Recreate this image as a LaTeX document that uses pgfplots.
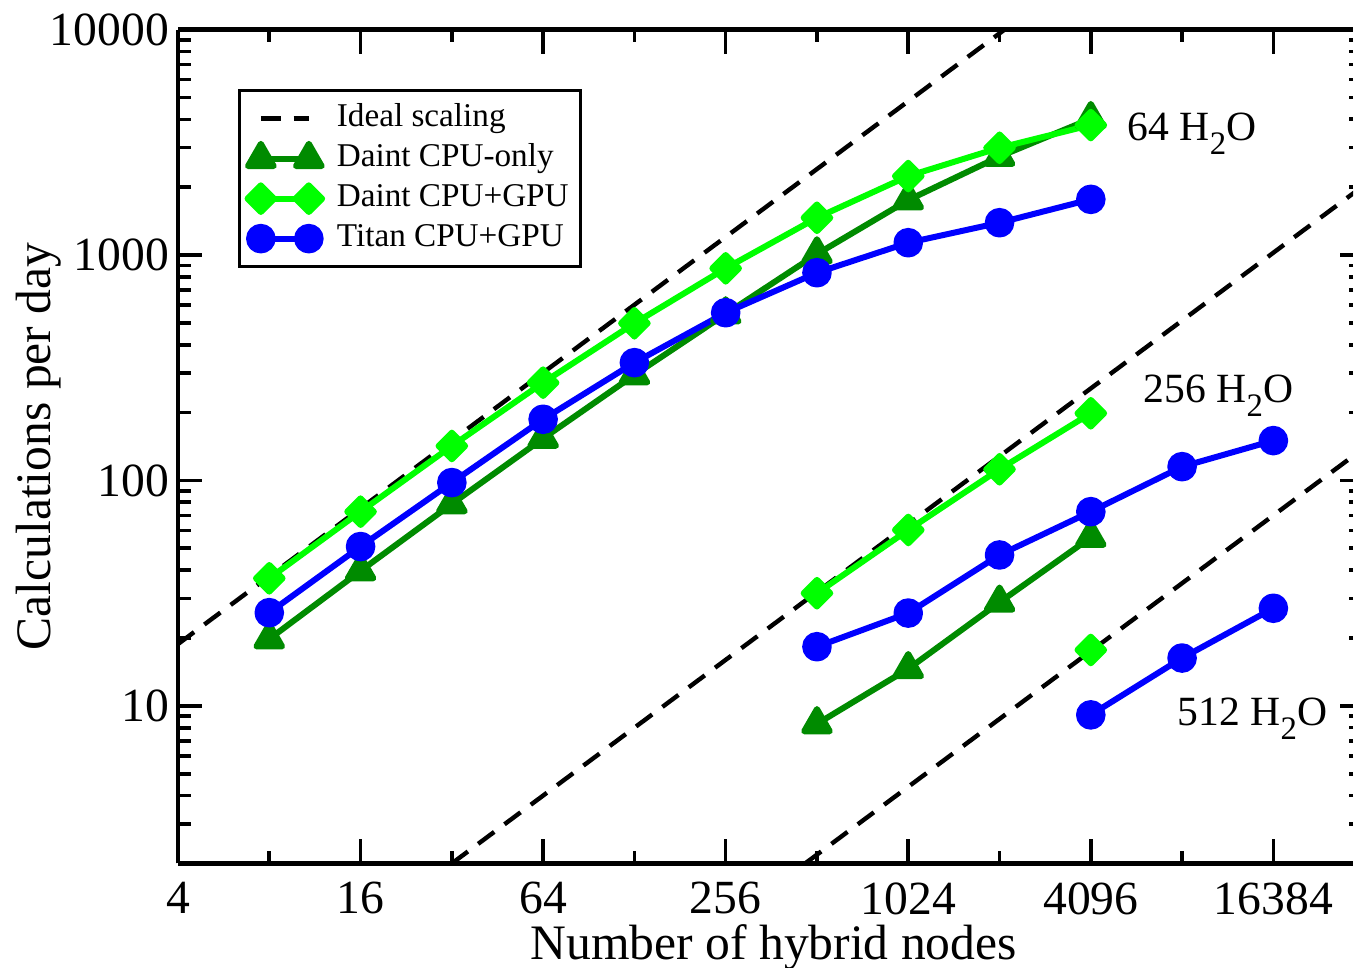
\documentclass[border=0pt]{standalone}
\usepackage{fontspec}
\setmainfont{Liberation Serif}
\usepackage{pgfplots}
\pgfplotsset{compat=1.18}
\definecolor{dgreen}{RGB}{0,139,0}
\definecolor{lgreen}{RGB}{0,255,0}
\definecolor{gblue}{RGB}{0,0,255}
\pgfplotsset{
  ideal/.style={black, line width=1.1pt, dash pattern=on 5pt off 3.2pt, no marks},
  cpuonly/.style={dgreen, line width=1.5pt, line join=round, mark=triangle*, mark size=3.7pt, mark options={solid, fill=dgreen, line join=round}},
  dgpu/.style={lgreen, line width=1.5pt, line join=round, mark=square*, mark size=2.35pt, mark options={solid, fill=lgreen, line join=round, rotate=45}},
  titan/.style={gblue, line width=1.5pt, line join=round, mark=*, mark size=2.95pt, mark options={solid, fill=gblue}},
}
\begin{document}
\begin{tikzpicture}
\begin{axis}[
  name=ax,
  scale only axis, width=293.75pt, height=208.45pt,
  xmode=log, ymode=log,
  xmin=4, xmax=30000, ymin=2, ymax=10000,
  axis x line*=box, axis y line*=left,
  axis line style={line width=1.1pt},
  tick style={line width=0.9pt, black},
  major tick length=6pt, minor tick length=3.2pt,
  tick align=inside,
  xtick={4,16,64,256,1024,4096,16384},
  xticklabels={4,16,64,256,1024,4096,16384},
  minor xtick={8,32,128,512,2048,8192},
  ytick={10,100,1000,10000},
  yticklabels={10,100,1000,10000},
  minor ytick={3,4,5,6,7,8,9,20,30,40,50,60,70,80,90,200,300,400,500,600,700,800,900,2000,3000,4000,5000,6000,7000,8000,9000},
  /pgf/number format/assume math mode=true,
  xticklabel style={font=\fontsize{11.9}{14}\selectfont, yshift=-1.2pt},
  yticklabel style={font=\fontsize{11.9}{14}\selectfont, xshift=1.25pt},
  xlabel={Number of hybrid nodes},
  ylabel={Calculations per day},
  label style={font=\fontsize{12.4}{15}\selectfont},
  xlabel style={at={(axis description cs:0.507,-0.115)}, anchor=base},
  ylabel style={at={(axis description cs:-0.1089,0.5)}, anchor=base},
  legend style={at={(axis description cs:0.0511,0.9286)}, anchor=north west,
    draw=black, line width=0.75pt, font=\fontsize{8.3}{10}\selectfont,
    inner sep=2pt, row sep=0pt,
    nodes={text height=6pt, text depth=2pt, inner sep=1pt},
    /tikz/every odd column/.append style={column sep=2.7pt}},
  legend cell align=left,
  legend image code/.code={\draw[#1, mark repeat=1] plot coordinates {(1.2pt,0pt) (13.2pt,0pt)};},
]
% ideal scaling lines
\addplot[ideal, forget plot] coordinates {(4,18.8) (4096,19251)};
\addplot[ideal, forget plot] coordinates {(32,2) (32768,2048)};
\addplot[ideal, forget plot] coordinates {(468,2) (32768,140)};
% 64 H2O
\addplot[cpuonly, forget plot] coordinates {(8,19.8) (16,39.7) (32,78.7) (64,153.6) (128,293.7) (256,547.5) (512,1010) (1024,1753) (2048,2734) (4096,4022)};
\addplot[dgpu, forget plot] coordinates {(8,36.8) (16,72.7) (32,142.2) (64,271.5) (128,497.9) (256,873) (512,1463) (1024,2240) (2048,2991) (4096,3771)};
\addplot[titan, forget plot] coordinates {(8,25.9) (16,50.9) (32,97.8) (64,186.8) (128,333) (256,554.7) (512,834.7) (1024,1134) (2048,1391) (4096,1766)};
% 256 H2O
\addplot[cpuonly, forget plot] coordinates {(512,8.32) (1024,14.6) (2048,28.8) (4096,55.9)};
\addplot[dgpu, forget plot] coordinates {(512,31.6) (1024,60.3) (2048,112.1) (4096,198.6)};
\addplot[titan, forget plot] coordinates {(512,18.3) (1024,25.8) (2048,46.7) (4096,72.7) (8192,115.1) (16384,150.2)};
% 512 H2O
\addplot[dgpu, forget plot] coordinates {(4096,17.7)};
\addplot[titan, forget plot] coordinates {(4096,9.12) (8192,16.3) (16384,27.1)};
% legend
\addlegendimage{ideal}
\addlegendentry{Ideal scaling}
\addlegendimage{cpuonly}
\addlegendentry{Daint CPU-only}
\addlegendimage{dgpu}
\addlegendentry{Daint CPU+GPU}
\addlegendimage{titan}
\addlegendentry{Titan CPU+GPU}
% annotations
\node[anchor=base west, font=\fontsize{10.4}{12}\selectfont, inner sep=0pt] at (rel axis cs:0.8077,0.8675) {64 H\raisebox{-3.7pt}{\fontsize{8.2}{9}\selectfont 2}O};
\node[anchor=base west, font=\fontsize{10.4}{12}\selectfont, inner sep=0pt] at (rel axis cs:0.8213,0.5532) {256 H\raisebox{-3.7pt}{\fontsize{8.2}{9}\selectfont 2}O};
\node[anchor=base west, font=\fontsize{10.4}{12}\selectfont, inner sep=0pt] at (rel axis cs:0.8502,0.1659) {512 H\raisebox{-3.7pt}{\fontsize{8.2}{9}\selectfont 2}O};
\end{axis}
\begin{axis}[
  scale only axis, width=293.75pt, height=208.45pt,
  at={(ax.south west)}, anchor=south west,
  xmode=log, ymode=log,
  xmin=4, xmax=30000, ymin=2, ymax=10000,
  hide x axis, axis y line*=right,
  y axis line style={draw=none},
  tick style={line width=0.9pt, black},
  major tick length=3.2pt, minor tick length=0.9pt,
  tick align=inside,
  ytick={10,100,1000,10000}, yticklabels={},
  minor ytick={3,4,5,6,7,8,9,20,30,40,50,60,70,80,90,200,300,400,500,600,700,800,900,2000,3000,4000,5000,6000,7000,8000,9000},
]
\addplot[draw=none, forget plot] coordinates {(8,10)};
\end{axis}
\pgfresetboundingbox
\path[use as bounding box] ([xshift=-44.5pt,yshift=-25.9pt]ax.south west) rectangle ([xshift=0.5pt,yshift=7.4pt]ax.north east);
\end{tikzpicture}
\end{document}
